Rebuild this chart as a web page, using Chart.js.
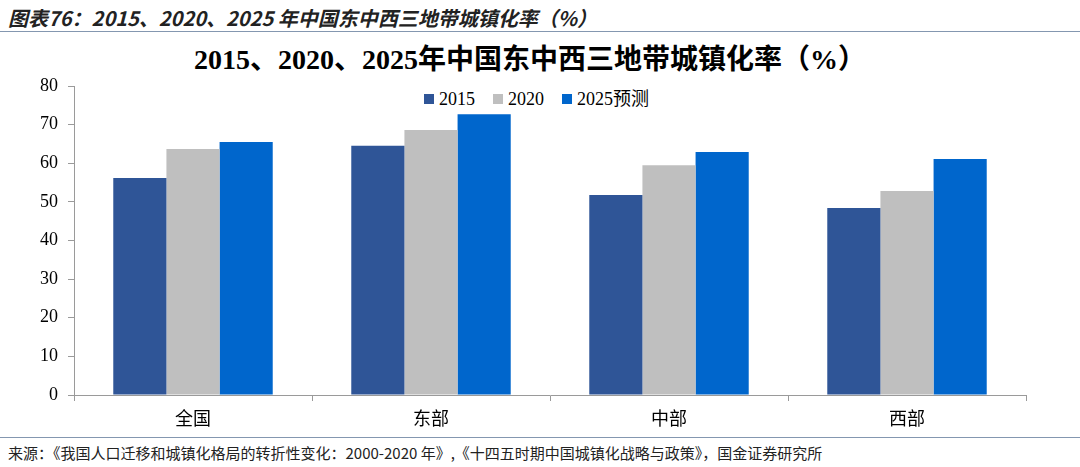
<!DOCTYPE html>
<html>
<head>
<meta charset="utf-8">
<script src="https://cdn.jsdelivr.net/npm/chart.js@4"></script>
<style>
  body { margin: 0; width: 1080px; height: 467px; background: #fff; position: relative; overflow: hidden; }
  #header { position: absolute; left: 8px; top: 3px; font: italic bold 20px "Noto Sans CJK SC", sans-serif; color: #222; }
  #hline { position: absolute; left: 0; top: 31px; width: 1080px; height: 1px; background: #8497b0; }
  #title { position: absolute; left: 0; width: 1060px; top: 37px; text-align: center; font: bold 28px "Liberation Serif", "Noto Sans CJK SC", serif; color: #000; }
  #legend { position: absolute; left: 424px; top: 84px; font: 18px "Liberation Serif", "Noto Sans CJK SC", serif; color: #000; white-space: nowrap; }
  #legend span.item { margin-right: 18px; }
  #legend span.box { display: inline-block; width: 10px; height: 10px; margin-right: 5px; vertical-align: 1px; }
  #wrap { position: absolute; left: 0; top: 36px; width: 1080px; height: 400px; }
  #fline { position: absolute; left: 0; top: 437px; width: 1080px; height: 1px; background: #8497b0; }
  #footer { position: absolute; left: 8px; top: 442px; font: 15px "Noto Sans CJK SC", sans-serif; color: #222; }
</style>
</head>
<body>
<div id="header">图表76：2015、2020、2025 年中国东中西三地带城镇化率（%）</div>
<div id="hline"></div>
<div id="title">2015、2020、2025年中国东中西三地带城镇化率（%）</div>
<div id="legend"></div>
<div id="wrap"><canvas id="chart"></canvas></div>
<div id="fline"></div>
<div id="footer">来源：《我国人口迁移和城镇化格局的转折性变化：2000-2020 年》,《十四五时期中国城镇化战略与政策》，国金证券研究所</div>
<script>
const categories = ["全国", "东部", "中部", "西部"];
const seriesNames = ["2015", "2020", "2025预测"];
const values2015 = [56.2, 64.5, 51.8, 48.4];
const values2020 = [63.7, 68.6, 59.5, 52.8];
const values2025 = [65.5, 72.7, 62.9, 61.1];
const yTicks = [0, 10, 20, 30, 40, 50, 60, 70, 80];

const colors = ["#2F5597", "#BFBFBF", "#0066CC"];
const serif = "'Liberation Serif', 'Noto Sans CJK SC', serif";

// legend drawn as html so it can sit over the plot area
const legendEl = document.getElementById("legend");
seriesNames.forEach(function (name, i) {
  legendEl.innerHTML += '<span class="item"><span class="box" style="background:' + colors[i] + '"></span>' + name + '</span>';
});

const ctx = document.getElementById("chart").getContext("2d");
new Chart(ctx, {
  type: "bar",
  data: {
    labels: categories,
    datasets: [
      { label: seriesNames[0], data: values2015, backgroundColor: colors[0] },
      { label: seriesNames[1], data: values2020, backgroundColor: colors[1] },
      { label: seriesNames[2], data: values2025, backgroundColor: colors[2] },
    ],
  },
  options: {
    responsive: true,
    maintainAspectRatio: false,
    animation: false,
    layout: { padding: { top: 50, right: 54, left: 0, bottom: 0 } },
    plugins: {
      legend: { display: false },
      title: { display: false },
      tooltip: { enabled: false },
    },
    datasets: { bar: { categoryPercentage: 0.67, barPercentage: 1.0 } },
    scales: {
      x: {
        grid: { offset: true, drawOnChartArea: false, color: "#9a9a9a", tickLength: 6 },
        border: { color: "#9a9a9a" },
        ticks: { color: "#000", font: { family: serif, size: 18 }, padding: 8 },
        afterFit: function (scale) { scale.height = 41; },
      },
      y: {
        min: 0,
        max: 80,
        afterBuildTicks: function (scale) { scale.ticks = yTicks.map(function (v) { return { value: v }; }); },
        grid: { drawOnChartArea: false, color: "#9a9a9a", tickLength: 6 },
        border: { color: "#9a9a9a" },
        ticks: { color: "#000", font: { family: serif, size: 18 }, padding: 10 },
        afterFit: function (scale) { scale.width = 74; },
      },
    },
  },
});
</script>
</body>
</html>
